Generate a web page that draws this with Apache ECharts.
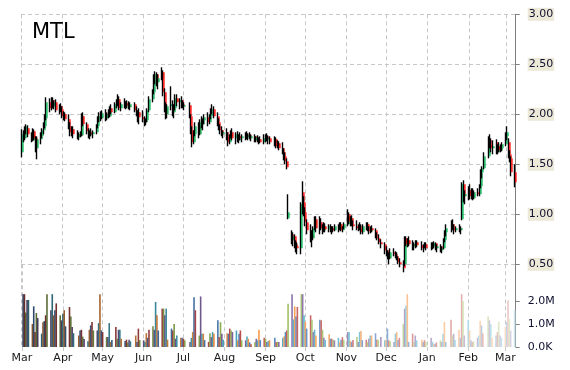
<!DOCTYPE html>
<html><head><meta charset="utf-8">
<script src="https://cdn.jsdelivr.net/npm/echarts/dist/echarts.min.js"></script>
<style>html,body{margin:0;padding:0;background:#fff}#c{width:570px;height:370px}</style>
</head><body><div id="c"></div>
<script>
// Trading days per month (categories)
const tradingDays = [
 ['2020-03',[2,3,4,5,6,9,10,11,12,13,16,17,18,19,20,23,24,25,26,27,30,31]],
 ['2020-04',[1,2,3,6,7,8,9,13,14,15,16,17,20,21,22,23,24,27,28,29,30]],
 ['2020-05',[1,4,5,6,7,8,11,12,13,14,15,18,19,20,21,22,26,27,28,29]],
 ['2020-06',[1,2,3,4,5,8,9,10,11,12,15,16,17,18,19,22,23,24,25,26,29,30]],
 ['2020-07',[1,2,6,7,8,9,10,13,14,15,16,17,20,21,22,23,24,27,28,29,30,31]],
 ['2020-08',[3,4,5,6,7,10,11,12,13,14,17,18,19,20,21,24,25,26,27,28,31]],
 ['2020-09',[1,2,3,4,8,9,10,11,14,15,16,17,18,21,22,23,24,25,28,29,30]],
 ['2020-10',[1,2,5,6,7,8,9,12,13,14,15,16,19,20,21,22,23,26,27,28,29,30]],
 ['2020-11',[2,3,4,5,6,9,10,11,12,13,16,17,18,19,20,23,24,25,27,30]],
 ['2020-12',[1,2,3,4,7,8,9,10,11,14,15,16,17,18,21,22,23,24,28,29,30,31]],
 ['2021-01',[4,5,6,7,8,11,12,13,14,15,19,20,21,22,25,26,27,28,29]],
 ['2021-02',[1,2,3,4,5,8,9,10,11,12,16,17,18,19,22,23,24,25,26]],
 ['2021-03',[1,2,3,4,5,8]]
];
const monthNames = ['Jan','Feb','Mar','Apr','May','Jun','Jul','Aug','Sep','Oct','Nov','Dec'];
const priceTicks = [0.5,1.0,1.5,2.0,2.5,3.0];
const volumeTicks = [0,1e6,2e6];

const open = [
 1.62,1.80,1.76,1.85,1.86,1.78,1.74,1.83,1.76,1.66,1.75,1.78,1.84,1.88,1.96,2.12,2.06,2.14,2.08,2.12,2.04,2.08,
 2.05,1.98,2.00,1.95,1.88,1.82,1.85,1.80,1.77,1.80,1.79,1.98,1.90,1.83,1.79,1.82,1.80,1.82,1.88,1.95,1.98,
 1.96,2.01,1.96,2.00,1.98,2.06,2.02,2.10,2.12,2.15,2.06,2.10,2.08,2.11,2.09,2.07,2.10,2.04,2.00,2.02,
 1.97,1.95,1.92,1.94,2.04,2.15,2.22,2.38,2.40,2.32,2.36,2.42,2.22,2.06,2.00,2.08,2.10,2.02,2.06,2.16,2.12,2.14,
 2.10,2.08,2.09,1.98,1.84,1.72,1.80,1.88,1.80,1.92,1.90,1.94,1.97,1.92,1.98,2.03,2.05,1.98,1.92,1.86,1.84,1.80,
 1.82,1.78,1.72,1.78,1.82,1.76,1.80,1.74,1.78,1.76,1.78,1.80,1.77,1.79,1.76,1.78,1.74,1.77,1.73,1.75,1.72,
 1.76,1.78,1.75,1.76,1.72,1.75,1.68,1.71,1.66,1.62,1.58,1.53,0.96,0.80,0.74,0.78,0.70,0.68,0.66,1.22,1.12,
 1.02,0.92,0.84,0.80,0.76,0.86,0.95,0.86,0.92,0.86,0.84,0.88,0.85,0.88,0.84,0.86,0.84,0.88,0.85,0.90,0.84,0.86,
 0.90,1.00,0.93,0.96,0.90,0.88,0.86,0.88,0.86,0.82,0.88,0.90,0.85,0.83,0.86,0.84,0.78,0.76,0.72,0.70,
 0.64,0.60,0.58,0.56,0.62,0.60,0.58,0.56,0.52,0.50,0.50,0.76,0.70,0.74,0.70,0.68,0.70,0.72,0.69,0.66,0.68,0.70,
 0.66,0.70,0.68,0.71,0.66,0.68,0.64,0.66,0.74,0.82,0.86,0.90,0.86,0.84,0.86,0.84,0.95,1.30,1.18,
 1.20,1.24,1.18,1.22,1.16,1.22,1.20,1.28,1.42,1.46,1.58,1.74,1.70,1.66,1.72,1.62,1.68,1.64,1.66,
 1.70,1.78,1.72,1.60,1.56,1.42
];
const high = [
 1.85,1.84,1.88,1.90,1.89,1.82,1.86,1.85,1.78,1.78,1.82,1.86,1.92,2.00,2.17,2.16,2.17,2.17,2.14,2.15,2.10,2.11,
 2.08,2.03,2.02,2.00,1.92,1.88,1.88,1.84,1.82,1.83,2.01,2.02,1.92,1.86,1.84,1.86,1.84,1.90,1.98,2.02,2.03,
 2.04,2.05,2.02,2.05,2.08,2.10,2.12,2.15,2.20,2.18,2.12,2.16,2.13,2.14,2.13,2.12,2.12,2.08,2.04,2.06,
 2.04,1.98,1.96,2.06,2.18,2.25,2.40,2.43,2.42,2.40,2.47,2.44,2.26,2.12,2.10,2.28,2.14,2.10,2.20,2.20,2.16,2.18,
 2.14,2.12,2.12,2.00,1.88,1.84,1.92,1.92,1.95,1.98,1.96,2.00,2.02,2.00,2.06,2.10,2.08,2.02,1.96,1.90,1.88,1.84,
 1.86,1.82,1.80,1.84,1.86,1.82,1.83,1.80,1.82,1.80,1.82,1.83,1.81,1.82,1.80,1.80,1.78,1.79,1.77,1.78,1.80,
 1.80,1.81,1.79,1.78,1.78,1.77,1.74,1.73,1.72,1.66,1.62,1.56,1.20,0.84,0.82,0.80,0.74,0.72,1.12,1.33,1.18,
 1.07,0.95,0.90,0.84,0.88,0.98,0.98,0.98,0.96,0.90,0.92,0.91,0.90,0.90,0.88,0.88,0.90,0.90,0.92,0.92,0.88,0.92,
 1.05,1.02,0.98,0.99,0.94,0.94,0.90,0.92,0.90,0.90,0.92,0.92,0.88,0.88,0.89,0.86,0.82,0.80,0.75,0.72,
 0.68,0.64,0.62,0.66,0.66,0.63,0.62,0.58,0.56,0.54,0.78,0.78,0.76,0.78,0.74,0.72,0.74,0.74,0.73,0.70,0.72,0.72,
 0.72,0.72,0.73,0.72,0.70,0.70,0.68,0.76,0.84,0.90,0.94,0.95,0.90,0.88,0.90,0.88,1.32,1.34,1.24,
 1.28,1.30,1.26,1.26,1.24,1.26,1.30,1.45,1.48,1.62,1.78,1.80,1.76,1.74,1.75,1.70,1.72,1.70,1.72,
 1.82,1.88,1.76,1.64,1.58,1.50
];
const low = [
 1.57,1.72,1.74,1.80,1.77,1.72,1.73,1.74,1.62,1.55,1.70,1.76,1.80,1.86,1.94,2.02,2.04,2.06,2.05,2.02,2.00,2.02,
 1.96,1.94,1.93,1.85,1.78,1.78,1.76,1.75,1.74,1.77,1.78,1.88,1.80,1.76,1.75,1.78,1.76,1.80,1.86,1.92,1.93,
 1.95,1.93,1.94,1.96,1.97,2.00,2.01,2.06,2.08,2.04,2.03,2.06,2.05,2.06,2.05,2.04,2.02,1.98,1.92,1.90,
 1.92,1.88,1.89,1.92,2.02,2.12,2.20,2.30,2.28,2.25,2.34,2.18,2.02,1.95,1.96,2.04,1.98,1.96,2.04,2.08,2.05,2.06,
 2.06,2.04,1.96,1.80,1.67,1.70,1.78,1.76,1.79,1.86,1.84,1.90,1.88,1.90,1.95,2.00,1.96,1.88,1.84,1.80,1.78,1.76,
 1.74,1.68,1.70,1.76,1.74,1.70,1.72,1.71,1.74,1.72,1.74,1.75,1.74,1.75,1.73,1.72,1.72,1.72,1.70,1.71,1.70,
 1.72,1.73,1.70,1.70,1.68,1.66,1.66,1.64,1.60,1.54,1.50,1.45,0.95,0.70,0.68,0.66,0.62,0.60,0.60,1.00,0.98,
 0.88,0.80,0.72,0.67,0.74,0.84,0.82,0.80,0.84,0.80,0.82,0.82,0.82,0.82,0.80,0.82,0.83,0.82,0.84,0.83,0.82,0.85,
 0.88,0.90,0.88,0.88,0.84,0.84,0.83,0.84,0.80,0.80,0.84,0.83,0.80,0.81,0.82,0.76,0.74,0.70,0.66,0.60,
 0.58,0.55,0.50,0.55,0.58,0.56,0.54,0.50,0.47,0.42,0.48,0.68,0.67,0.68,0.64,0.64,0.66,0.67,0.64,0.62,0.66,0.64,
 0.64,0.65,0.66,0.64,0.62,0.62,0.61,0.65,0.72,0.78,0.82,0.84,0.80,0.82,0.82,0.80,0.94,1.12,1.10,
 1.14,1.15,1.15,1.14,1.15,1.18,1.18,1.26,1.36,1.45,1.56,1.66,1.62,1.60,1.60,1.60,1.62,1.62,1.63,
 1.68,1.74,1.56,1.52,1.38,1.27
];
const close = [
 1.80,1.76,1.85,1.88,1.80,1.74,1.83,1.76,1.66,1.75,1.78,1.84,1.88,1.96,2.12,2.06,2.14,2.08,2.12,2.04,2.08,2.05,
 1.98,2.00,1.95,1.88,1.82,1.85,1.80,1.77,1.80,1.79,1.98,1.90,1.83,1.79,1.82,1.80,1.82,1.88,1.95,1.98,1.96,
 2.01,1.96,2.00,1.98,2.06,2.02,2.10,2.12,2.15,2.06,2.10,2.08,2.11,2.09,2.07,2.10,2.04,2.00,2.02,1.97,
 1.95,1.92,1.94,2.04,2.15,2.22,2.38,2.40,2.32,2.36,2.42,2.22,2.06,2.00,2.08,2.10,2.02,2.06,2.16,2.12,2.14,2.10,
 2.08,2.09,1.98,1.84,1.72,1.80,1.88,1.80,1.92,1.90,1.94,1.97,1.92,1.98,2.03,2.05,1.98,1.92,1.86,1.84,1.80,1.82,
 1.78,1.72,1.78,1.82,1.76,1.80,1.74,1.78,1.76,1.78,1.80,1.77,1.79,1.76,1.78,1.74,1.77,1.73,1.75,1.72,1.76,
 1.78,1.75,1.76,1.72,1.75,1.68,1.71,1.66,1.62,1.58,1.53,1.47,1.02,0.74,0.78,0.70,0.68,0.66,1.10,1.12,1.02,
 0.92,0.84,0.80,0.76,0.86,0.95,0.86,0.92,0.86,0.84,0.88,0.85,0.88,0.84,0.86,0.84,0.88,0.85,0.90,0.84,0.86,0.90,
 1.00,0.93,0.96,0.90,0.88,0.86,0.88,0.86,0.82,0.88,0.90,0.85,0.83,0.86,0.84,0.78,0.76,0.72,0.70,0.64,
 0.60,0.58,0.56,0.62,0.60,0.58,0.56,0.52,0.50,0.46,0.76,0.70,0.74,0.70,0.68,0.70,0.72,0.69,0.66,0.68,0.70,0.66,
 0.70,0.68,0.71,0.66,0.68,0.64,0.66,0.74,0.82,0.86,0.90,0.86,0.84,0.86,0.84,0.86,1.30,1.18,1.20,
 1.24,1.18,1.22,1.16,1.22,1.20,1.28,1.42,1.46,1.58,1.74,1.70,1.66,1.68,1.62,1.68,1.64,1.66,1.70,
 1.78,1.82,1.60,1.56,1.42,1.32
];
// volume in millions
const volumeM = [
 2.3,2.3,1.5,2.05,2.05,1.0,1.77,0.65,1.48,1.26,0.58,1.08,1.13,1.38,2.3,1.6,2.3,1.38,1.6,1.9,1.38,1.16,
 1.45,1.6,0.9,1.74,1.33,0.87,0.6,0.5,0.72,0.75,0.45,0.35,0.25,0.75,0.94,1.09,0.72,0.72,1.04,2.3,0.72,
 0.65,0.43,0.43,1.04,0.22,0.3,0.87,0.36,0.75,0.75,0.36,0.26,0.32,0.2,0.32,0.25,0.5,0.22,0.8,0.3,
 0.29,0.22,0.6,0.4,0.75,0.9,0.75,1.96,1.38,0.72,1.67,1.67,1.38,1.67,0.32,0.8,0.72,1.0,0.36,0.5,0.4,0.4,
 0.36,0.29,0.22,0.4,0.65,2.17,1.6,0.5,2.2,0.58,0.58,0.3,0.22,0.6,0.43,0.65,0.58,1.16,0.43,1.08,0.58,0.32,
 0.6,0.58,0.8,0.72,0.65,0.72,0.29,0.58,0.72,0.29,0.29,0.46,0.36,0.2,0.12,0.22,0.36,0.29,0.75,0.3,0.4,
 0.36,0.22,0.26,0.3,0.4,0.22,0.22,0.22,0.4,0.46,0.65,0.72,1.88,2.3,1.2,1.77,1.33,1.74,2.3,2.3,1.38,
 1.09,0.8,1.38,1.19,0.65,0.75,0.5,1.19,1.16,0.75,0.4,0.3,0.55,0.36,0.36,0.32,0.29,0.4,0.2,0.32,0.43,0.3,
 0.65,0.65,0.26,0.22,0.3,0.43,0.22,0.65,0.7,0.3,0.32,0.22,0.36,0.5,0.5,0.6,0.32,0.32,0.43,0.29,
 0.32,0.8,0.29,0.25,0.22,0.58,0.65,0.3,0.4,1.0,1.67,1.8,2.3,0.22,0.58,0.22,0.5,0.29,0.32,0.22,0.3,0.22,
 0.4,0.22,0.14,0.14,0.2,0.29,0.22,0.58,1.09,0.22,1.19,0.5,0.58,0.3,0.75,0.4,2.3,2.0,0.5,
 1.19,0.72,0.29,0.22,0.25,0.4,0.5,1.13,0.94,0.6,1.33,1.16,0.99,0.4,0.5,0.65,1.09,0.5,0.4,
 0.87,1.09,2.03,1.23,0.72,1.6
];

const dates = [];
tradingDays.forEach(([m, ds]) => ds.forEach(d => dates.push(m + '-' + (d < 10 ? '0' + d : d))));

const baseColors = ['#4F81BD','#C0504D','#9BBB59','#8064A2','#4BACC6','#F79646'];
function shade(hex, f) {
  const n = parseInt(hex.slice(1), 16);
  let c = [(n >> 16) & 255, (n >> 8) & 255, n & 255];
  c = c.map(v => f < 0 ? v * (1 + f) : v + (255 - v) * f);
  return 'rgb(' + c.map(v => Math.round(v)).join(',') + ')';
}
function volColor(i) {
  const t = i / (dates.length - 1);
  return shade(baseColors[i % 6], -0.45 + 1.15 * Math.pow(t, 1.25));
}

const ohlcData = dates.map((d, i) => [d, open[i], close[i], low[i], high[i]]);
const volData = dates.map((d, i) => ({ value: [d, volumeM[i] * 1e6], itemStyle: { color: volColor(i) } }));

const FONT = 'DejaVu Sans';
const GRID_COLOR = '#C8C8C8';
const AXIS_COLOR = '#808080';

function renderCandle(params, api) {
  const t = api.value(0);
  const o = api.value(1), c = api.value(2), l = api.value(3), h = api.value(4);
  const pl = api.coord([t, l]), ph = api.coord([t, h]);
  const po = api.coord([t, o]), pc = api.coord([t, c]);
  const x = Math.round(pl[0]);
  const top = Math.min(po[1], pc[1]);
  const bh = Math.max(1.5, Math.abs(po[1] - pc[1]));
  return {
    type: 'group',
    children: [
      { type: 'rect', shape: { x: x - 1.2, y: ph[1], width: 1.4, height: Math.max(1, pl[1] - ph[1]) }, style: { fill: '#000' } },
      { type: 'rect', shape: { x: x + 0.2, y: top, width: 1.4, height: bh }, style: { fill: c >= o ? '#00B050' : '#FF0000' } }
    ]
  };
}

const xMin = '2020-03-01';
const xMax = '2021-03-08 05:00';
const monthFmt = v => monthNames[new Date(v).getMonth()];

const chart = echarts.init(document.getElementById('c'), null, { renderer: 'canvas' });
chart.setOption({
  animation: false,
  backgroundColor: '#fff',
  title: { text: 'MTL', left: 27, top: 17, textStyle: { fontFamily: FONT, fontSize: 21, fontWeight: 'normal', color: '#000' } },
  grid: [
    { left: 21, right: 54.3, top: 14.3, height: 250 },
    { left: 21, right: 54.3, top: 264.3, bottom: 23 }
  ],
  xAxis: [
    { type: 'time', gridIndex: 0, min: xMin, max: xMax, splitNumber: 12,
      minInterval: 28 * 864e5, maxInterval: 31 * 864e5,
      axisLine: { show: false }, axisTick: { show: false }, axisLabel: { show: false },
      splitLine: { show: true, lineStyle: { color: GRID_COLOR, type: [4, 3] } } },
    { type: 'time', gridIndex: 1, min: xMin, max: xMax, splitNumber: 12,
      minInterval: 28 * 864e5, maxInterval: 31 * 864e5,
      axisLine: { show: false },
      axisTick: { show: true, length: 4, lineStyle: { color: GRID_COLOR } },
      axisLabel: { formatter: monthFmt, margin: 6, fontFamily: FONT, fontSize: 11, color: '#1a1a1a', hideOverlap: false },
      splitLine: { show: true, lineStyle: { color: GRID_COLOR, type: [4, 3] } } }
  ],
  yAxis: [
    { type: 'value', gridIndex: 0, position: 'right', min: 0.5, max: 3, interval: 0.5,
      axisLine: { show: true, lineStyle: { color: AXIS_COLOR } },
      axisTick: { show: true, length: 4, lineStyle: { color: AXIS_COLOR } },
      axisLabel: { formatter: v => v.toFixed(2), margin: 12, backgroundColor: '#ECE9D8', padding: [1, 1, 1, 1],
        fontFamily: FONT, fontSize: 11, color: '#101030' },
      splitLine: { show: true, lineStyle: { color: GRID_COLOR, type: [4, 3] } } },
    { type: 'value', gridIndex: 1, position: 'right', min: 0, max: 3.6e6,
      axisLine: { show: true, lineStyle: { color: AXIS_COLOR } },
      axisTick: { show: true, length: 4, customValues: volumeTicks, lineStyle: { color: AXIS_COLOR } },
      axisLabel: { customValues: volumeTicks, margin: 12, fontFamily: FONT, fontSize: 11, color: '#101030',
        formatter: v => v === 0 ? '0.0K' : (v / 1e6).toFixed(1) + 'M' },
      splitLine: { show: false } }
  ],
  series: [
    { type: 'custom', xAxisIndex: 0, yAxisIndex: 0, renderItem: renderCandle, clip: false,
      encode: { x: 0, y: [1, 2, 3, 4] }, data: ohlcData, z: 5 },
    { type: 'bar', xAxisIndex: 1, yAxisIndex: 1, barWidth: 1.6, data: volData }
  ]
});
</script>
</body></html>
